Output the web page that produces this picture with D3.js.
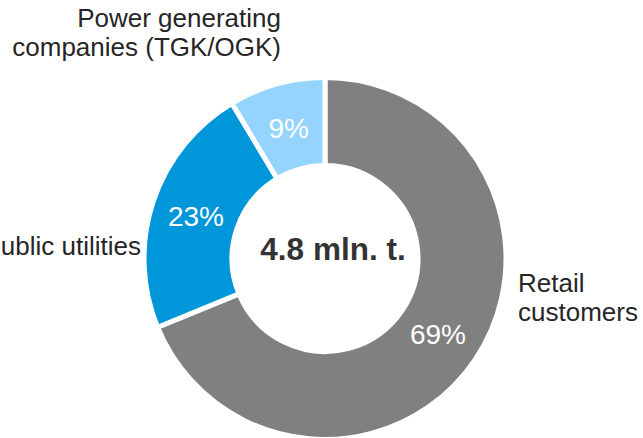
<!DOCTYPE html>
<html><head><meta charset="utf-8">
<script src="https://cdn.jsdelivr.net/npm/d3@7/dist/d3.min.js"></script>
<style>html,body{margin:0;padding:0;background:#fff;}svg{display:block;}</style>
</head><body>
<script>
const categories = ["Retail customers", "Public utilities", "Power generating companies (TGK/OGK)"];
const shares = [0.688, 0.226, 0.086];
const colors = ["#808080", "#0096DA", "#94D4FF"];
const totalLabel = "4.8 mln. t.";

const W = 643, H = 438;
const cx = 325, cy = 258.5;
const svg = d3.select("body").append("svg").attr("width", W).attr("height", H);

const data = categories.map((c, i) => ({name: c, value: shares[i], color: colors[i]}));
const pie = d3.pie().value(d => d.value).sort(null);
const arc = d3.arc().innerRadius(93).outerRadius(181);
const labelArc = d3.arc().innerRadius(136).outerRadius(136);
const arcs = pie(data);

const g = svg.append("g").attr("transform", `translate(${cx},${cy})`);
g.selectAll("path").data(arcs).join("path")
  .attr("d", arc).attr("fill", d => d.data.color)
  .attr("stroke", "#fff").attr("stroke-width", 5).attr("stroke-linejoin", "miter");

const fmt = d3.format(".0%");
g.selectAll("text.pct").data(arcs).join("text").attr("class", "pct")
  .attr("transform", d => `translate(${labelArc.centroid(d)})`)
  .attr("text-anchor", "middle").attr("dy", "0.36em")
  .attr("font-family", "Liberation Sans, Arial, sans-serif").attr("font-size", 28)
  .attr("fill", "#fff").text(d => fmt(d.data.value));

svg.append("text").attr("x", 333).attr("y", 260).attr("text-anchor", "middle")
  .attr("font-family", "Liberation Sans, Arial, sans-serif").attr("font-size", 31.5)
  .attr("font-weight", "bold").attr("fill", "#333").text(totalLabel);

const font = "Liberation Sans, Arial, sans-serif";
const cat = svg.append("g").attr("font-family", font).attr("font-size", 26).attr("fill", "#262626");
// Retail customers
const t0 = cat.append("text").attr("x", 518).attr("y", 292);
t0.append("tspan").attr("x", 518).text("Retail");
t0.append("tspan").attr("x", 518).attr("dy", 29).text("customers");
// Public utilities
cat.append("text").attr("x", 141).attr("y", 255).attr("text-anchor", "end").text(categories[1]);
// Power generating companies
const t2 = cat.append("text").attr("y", 27).attr("text-anchor", "end");
t2.append("tspan").attr("x", 281).text("Power generating");
t2.append("tspan").attr("x", 281).attr("dy", 29).text("companies (TGK/OGK)");
</script>
</body></html>
